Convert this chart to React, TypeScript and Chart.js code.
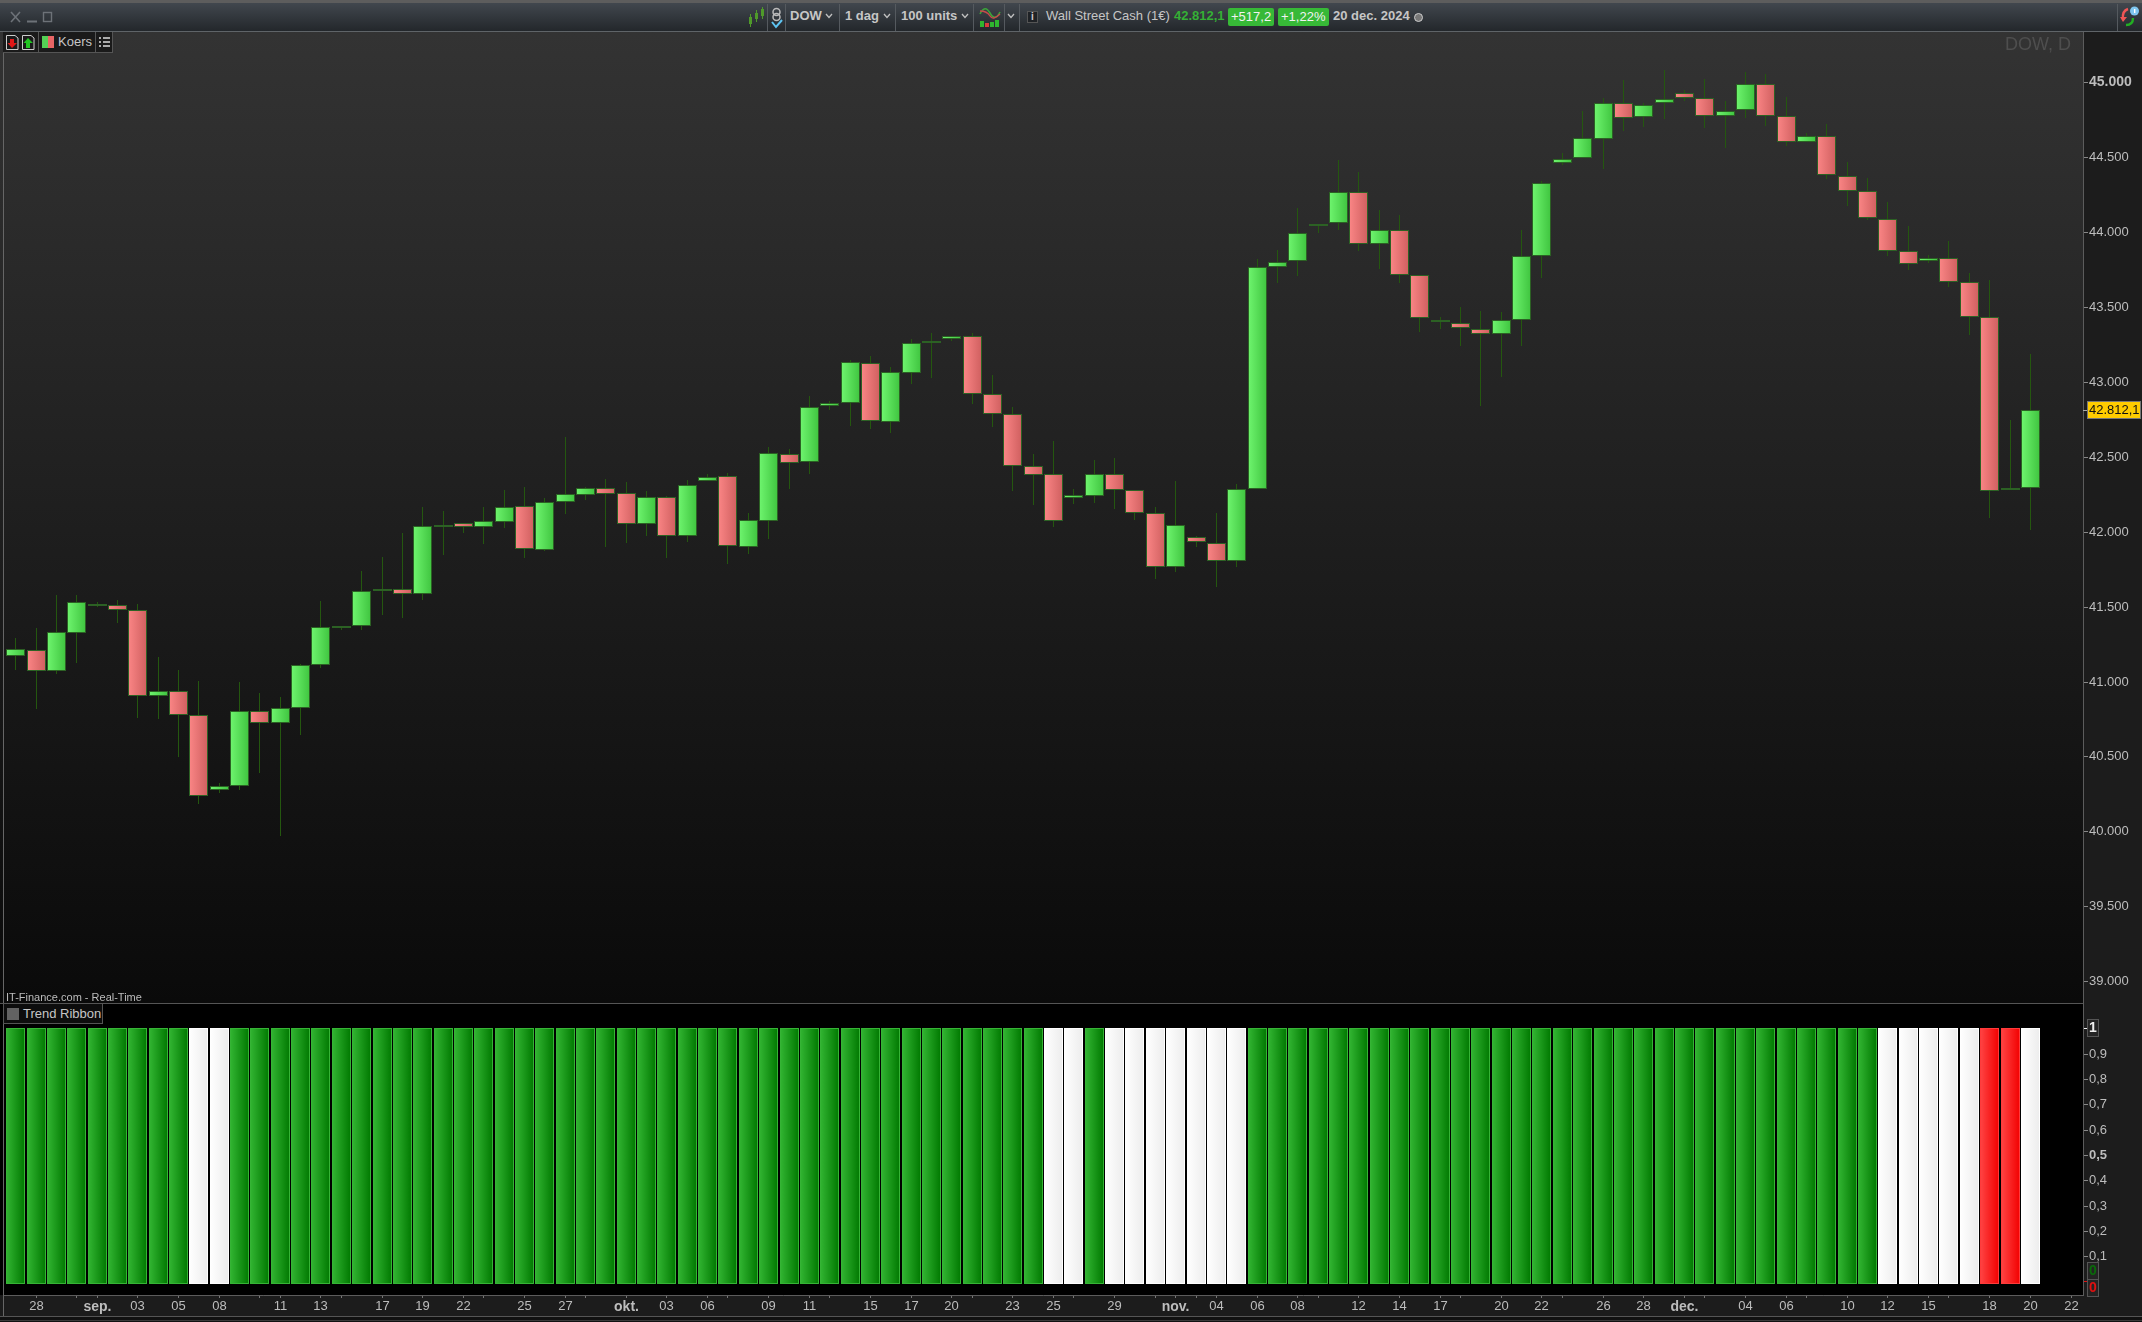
import React, { useEffect, useRef } from "react";
import { Chart, registerables } from "chart.js";

Chart.register(...registerables);

const FONT = "'Liberation Sans', Arial, sans-serif";
Chart.defaults.font.family = FONT;

// ---- price data ----
const opens = [41168,41212,41067,41321,41505,41508,41475,40901,40938,40774,40273,40304,40805,40720,40825,41108,41355,41372,41606,41615,41586,42033,42056,42033,42067,42169,41880,42196,42247,42289,42256,42053,42229,41973,42340,42369,41900,42073,42521,42467,42841,42861,43124,42734,43061,43257,43284,43304,42917,42783,42436,42383,42227,42240,42383,42280,42127,41766,41962,41927,41806,42283,43765,43805,44038,44058,44265,43918,44012,43711,43402,43395,43355,43317,43415,43843,44459,44492,44619,44864,44766,44860,44931,44897,44773,44813,44991,44773,44599,44644,44377,44272,44090,43871,43805,43829,43664,43435,42276,42289];
const highs = [41290,41354,41577,41577,41530,41544,41517,41165,41076,41003,40322,40994,40921,40894,41117,41537,41372,41735,41829,41989,42165,42138,42056,42165,42278,42298,42225,42634,42296,42352,42329,42269,42236,42345,42385,42392,42125,42565,42550,42906,42872,43146,43173,43102,43286,43326,43304,43326,43044,42830,42516,42605,42283,42478,42490,42280,42162,42338,41971,42122,42318,43820,43880,44163,44056,44480,44400,44145,44112,43711,43433,43500,43473,43464,44012,44339,44526,44808,44893,45015,44860,45082,44949,45022,44875,45069,45055,44902,44659,44719,44468,44359,44198,44038,43847,43938,43727,43680,42745,43186];
const lows = [41079,40818,41050,41125,41499,41392,40758,40752,40498,40184,40258,40278,40391,39971,40643,41092,41344,41346,41446,41426,41544,41846,41993,41920,42027,41826,41873,42120,42212,41898,41927,41973,41826,41933,42340,41786,41853,41951,42285,42387,42812,42705,42685,42661,42988,43028,43275,42855,42701,42272,42180,42033,42187,42194,42154,42078,41686,41733,41900,41633,41766,42283,43662,43707,43996,44014,43874,43756,43662,43335,43355,43242,42841,43035,43242,43696,44448,44492,44423,44677,44704,44755,44877,44697,44564,44764,44710,44575,44599,44354,44176,44081,43842,43749,43796,43635,43315,42093,42276,42013];
const closes = [41219,41067,41328,41528,41512,41475,40901,40938,40774,40238,40304,40805,40720,40825,41108,41366,41372,41606,41613,41586,42036,42038,42033,42069,42162,41882,42196,42249,42289,42254,42053,42229,41973,42309,42367,41907,42076,42523,42461,42830,42861,43130,42737,43064,43257,43268,43304,42917,42783,42436,42381,42073,42243,42383,42280,42127,41766,42042,41929,41806,42283,43765,43803,43992,44056,44265,43918,44012,43711,43424,43406,43357,43317,43415,43843,44325,44490,44626,44864,44759,44851,44891,44893,44773,44811,44991,44773,44599,44644,44379,44272,44092,43871,43785,43829,43664,43431,42269,42282,42812.1];

// 1 = green, 0 = white, -1 = red
const ribbonStates = [1,1,1,1,1,1,1,1,1,0,0,1,1,1,1,1,1,1,1,1,1,1,1,1,1,1,1,1,1,1,1,1,1,1,1,1,1,1,1,1,1,1,1,1,1,1,1,1,1,1,1,0,0,1,0,0,0,0,0,0,0,1,1,1,1,1,1,1,1,1,1,1,1,1,1,1,1,1,1,1,1,1,1,1,1,1,1,1,1,1,1,1,0,0,0,0,0,-1,-1,0];
const ribbonValues = [1,1,1,1,1,1,1,1,1,1,1,1,1,1,1,1,1,1,1,1,1,1,1,1,1,1,1,1,1,1,1,1,1,1,1,1,1,1,1,1,1,1,1,1,1,1,1,1,1,1,1,1,1,1,1,1,1,1,1,1,1,1,1,1,1,1,1,1,1,1,1,1,1,1,1,1,1,1,1,1,1,1,1,1,1,1,1,1,1,1,1,1,1,1,1,1,1,1,1,1];

// ---- axis ticks ----
const xTickIndex = [1,3,4,6,8,10,12,13,15,16,18,20,22,23,25,27,28,30,32,34,35,37,39,40,42,44,46,47,49,51,52,54,56,57,58,59,61,63,64,66,68,70,71,73,75,76,78,80,82,83,85,87,88,90,92,94,95,97,99,101];
const xTickText = ["28","","sep.","03","05","08","","11","13","","17","19","22","","25","27","","okt.","03","06","","09","11","","15","17","20","","23","25","","29","","nov.","","04","06","08","","12","14","17","","20","22","","26","28","dec.","","04","06","","10","12","15","","18","20","22"];
const priceTicks = [39000,39500,40000,40500,41000,41500,42000,42500,43000,43500,44000,44500,45000];
const ribbonTicks = [0,0.1,0.2,0.3,0.4,0.5,0.6,0.7,0.8,0.9,1];

const LEFT = 3, AXIS_X = 2083, PANE_TOP = 32, PANE_SPLIT = 1003, BAND_TOP = 1295, BAND_BOTTOM = 1316;
const X_MIN = -0.6241, X_MAX = 101.5872;

const snapX = (axis: any) => {
  if (axis.__snap) return;
  axis.__snap = true;
  const f = axis.getPixelForValue.bind(axis);
  axis.getPixelForValue = (v: number, i?: number) => Math.floor(f(v, i)) + 0.5;
};
const snapY = (axis: any) => {
  if (axis.__snap) return;
  axis.__snap = true;
  const f = axis.getPixelForValue.bind(axis);
  axis.getPixelForValue = (v: number, i?: number) => Math.round(f(v, i));
};
const noPad = (axis: any) => {
  axis.paddingTop = 0;
  axis.paddingBottom = 0;
  axis.paddingLeft = 0;
  axis.paddingRight = 0;
};

const hGrad = (c: any, left: string, right: string) => {
  const chart = c.chart;
  if (c.dataIndex === undefined || !chart.scales.x) return left;
  const x = chart.scales.x.getPixelForValue(c.dataIndex);
  if (!Number.isFinite(x)) return left;
  const g = chart.ctx.createLinearGradient(x - 9.5, 0, x + 9.5, 0);
  g.addColorStop(0, left);
  g.addColorStop(1, right);
  return g;
};

const priceFmt = (v: number) => `${Math.floor(v / 1000)}.${String(v % 1000).padStart(3, "0")}`;

const priceTag = {
  id: "priceTag",
  afterDraw(chart: any) {
    const { ctx, scales } = chart;
    const last = closes[closes.length - 1];
    const y = scales.y.getPixelForValue(last);
    ctx.save();
    ctx.strokeStyle = "#aaa";
    ctx.beginPath();
    ctx.moveTo(AXIS_X, y + 0.5);
    ctx.lineTo(AXIS_X + 5, y + 0.5);
    ctx.stroke();
    ctx.fillStyle = "#ffcc00";
    ctx.fillRect(AXIS_X + 5, y - 8, 52, 16);
    ctx.strokeStyle = "#777";
    ctx.strokeRect(AXIS_X + 4.5, y - 8.5, 53, 17);
    ctx.fillStyle = "#111";
    ctx.font = `13px ${FONT}`;
    ctx.textAlign = "left";
    ctx.textBaseline = "middle";
    ctx.fillText("42.812,1", AXIS_X + 6, y + 0.5);
    ctx.restore();
  },
};

const ribbonTags = {
  id: "ribbonTags",
  afterDraw(chart: any) {
    const { ctx, scales } = chart;
    const box = (cy: number, text: string, color: string) => {
      ctx.fillStyle = "#242424";
      ctx.fillRect(AXIS_X + 4, cy - 8, 11, 16);
      ctx.strokeStyle = "#555";
      ctx.strokeRect(AXIS_X + 4.5, cy - 8.5, 11, 17);
      ctx.fillStyle = color;
      ctx.font = `bold 14px ${FONT}`;
      ctx.textAlign = "center";
      ctx.textBaseline = "middle";
      ctx.fillText(text, AXIS_X + 10, cy + 0.5);
    };
    ctx.save();
    box(scales.y.getPixelForValue(1), "1", "#eee");
    box(scales.y.getPixelForValue(0) - 10, "0", "#0a6a0a");
    box(scales.y.getPixelForValue(0) + 7, "0", "#e01010");
    ctx.restore();
  },
};

function MainChart() {
  const ref = useRef<HTMLCanvasElement>(null);
  useEffect(() => {
    const ids = opens.map((_, i) => i);
    const chart = new Chart(ref.current!, {
      type: "bar",
      data: {
        datasets: [
          {
            label: "wick",
            data: ids.map((i) => ({ x: i, y: [lows[i], highs[i]] })),
            backgroundColor: "#24570f",
            barThickness: 1,
            grouped: false,
            order: 2,
            inflateAmount: 0,
          },
          {
            label: "Koers",
            data: ids.map((i) => ({ x: i, y: [opens[i], closes[i]] })),
            barThickness: 19,
            grouped: false,
            order: 1,
            inflateAmount: 0,
            minBarLength: 2,
            borderWidth: 1,
            borderSkipped: false,
            borderColor: "#2c6124",
            backgroundColor: (c: any) => {
              const i = c.dataIndex;
              return closes[i] >= opens[i]
                ? hGrad(c, "#6ff56f", "#3fc43f")
                : hGrad(c, "#fb8686", "#cf5f5f");
            },
          },
        ] as any,
      },
      options: {
        responsive: false,
        animation: false,
        devicePixelRatio: 1,
        layout: { padding: { left: LEFT, right: 0, top: 0, bottom: 0 } },
        plugins: { legend: { display: false }, tooltip: { enabled: false } },
        scales: {
          x: {
            type: "linear",
            min: X_MIN,
            max: X_MAX,
            offset: false,
            display: false,
            afterDataLimits: snapX,
            afterBuildTicks: (a: any) => {
              a.ticks = [];
            },
          },
          y: {
            type: "linear",
            position: "right",
            min: 38853.8,
            max: 45335.8,
            afterDataLimits: snapY,
            afterBuildTicks: (a: any) => {
              a.ticks = priceTicks.map((value) => ({ value }));
            },
            afterFit: (a: any) => {
              a.width = 59;
              noPad(a);
            },
            border: { color: "#5c5c5c", width: 1 },
            grid: { drawOnChartArea: false, drawTicks: true, tickLength: 5, tickColor: "#888" },
            ticks: {
              padding: 1,
              autoSkip: false,
              color: "#bdbdbd",
              font: (c: any) =>
                c.tick && c.tick.value === 45000 ? { size: 14, weight: "bold" } : { size: 13 },
              callback: (v: any) => priceFmt(v),
            },
          },
        },
      } as any,
      plugins: [priceTag],
    });
    return () => chart.destroy();
  }, []);
  return (
    <canvas
      ref={ref}
      width={2142}
      height={PANE_SPLIT - PANE_TOP}
      style={{ position: "absolute", left: 0, top: PANE_TOP, display: "block" }}
    />
  );
}

function RibbonChart() {
  const ref = useRef<HTMLCanvasElement>(null);
  useEffect(() => {
    const chart = new Chart(ref.current!, {
      type: "bar",
      data: {
        datasets: [
          {
            label: "Trend Ribbon",
            data: ribbonValues.map((v, i) => ({ x: i, y: v })),
            base: -0.008,
            barThickness: 19,
            inflateAmount: 0,
            borderWidth: 1,
            borderSkipped: false,
            borderColor: (c: any) => {
              const s = ribbonStates[c.dataIndex];
              return s === 1 ? "#36b436" : s === 0 ? "#ffffff" : "#ff3b3b";
            },
            backgroundColor: (c: any) => {
              const s = ribbonStates[c.dataIndex];
              if (s === 1) return hGrad(c, "#33b633", "#007800");
              if (s === 0) return hGrad(c, "#ffffff", "#ececec");
              return hGrad(c, "#ff4545", "#f20000");
            },
          },
        ] as any,
      },
      options: {
        responsive: false,
        animation: false,
        devicePixelRatio: 1,
        layout: { padding: { left: LEFT, right: 0, top: 0, bottom: 0 } },
        plugins: { legend: { display: false }, tooltip: { enabled: false } },
        scales: {
          x: {
            type: "linear",
            min: X_MIN,
            max: X_MAX,
            offset: false,
            afterDataLimits: snapX,
            afterBuildTicks: (a: any) => {
              a.ticks = xTickIndex.map((value) => ({ value }));
            },
            afterFit: (a: any) => {
              a.height = BAND_BOTTOM - BAND_TOP;
              noPad(a);
            },
            border: { color: "#5c5c5c", width: 1 },
            grid: { offset: false, drawOnChartArea: false, drawTicks: true, tickLength: 3, tickColor: "#777" },
            ticks: {
              padding: 1,
              autoSkip: false,
              maxRotation: 0,
              minRotation: 0,
              color: "#bdbdbd",
              font: (c: any) => {
                const t = xTickText[c.index];
                return t && t.endsWith(".") ? { size: 14, weight: "bold" } : { size: 13 };
              },
              callback: (_v: any, i: number) => xTickText[i],
            },
          },
          y: {
            type: "linear",
            position: "right",
            min: -0.05336,
            max: 1.10079,
            afterDataLimits: snapY,
            afterBuildTicks: (a: any) => {
              a.ticks = ribbonTicks.map((value) => ({ value }));
            },
            afterFit: (a: any) => {
              a.width = 59;
              noPad(a);
            },
            border: { color: "#5c5c5c", width: 1 },
            grid: {
              drawOnChartArea: false,
              drawTicks: true,
              tickLength: 5,
              tickColor: (c: any) =>
                c.tick && c.tick.value === 1 ? "#eee" : c.tick && c.tick.value === 0 ? "#e01010" : "#888",
            },
            ticks: {
              padding: 1,
              autoSkip: false,
              color: "#bdbdbd",
              font: (c: any) =>
                c.tick && c.tick.value === 0.5 ? { size: 13, weight: "bold" } : { size: 13 },
              callback: (v: any) =>
                v === 0 || v === 1 ? "" : String(v).replace(".", ","),
            },
          },
        },
      } as any,
      plugins: [ribbonTags],
    });
    return () => chart.destroy();
  }, []);
  return (
    <canvas
      ref={ref}
      width={2142}
      height={BAND_BOTTOM - PANE_SPLIT}
      style={{ position: "absolute", left: 0, top: PANE_SPLIT, display: "block" }}
    />
  );
}

const abs = (left: number, top: number, width: number, height: number, extra: any = {}) => ({
  position: "absolute" as const,
  left,
  top,
  width,
  height,
  ...extra,
});

function Txt({ x, cy, color = "#c6c6c6", bold = false, size = 13, children }: any) {
  return (
    <div
      style={{
        position: "absolute",
        left: x,
        top: cy - 10,
        height: 20,
        lineHeight: "20px",
        fontFamily: FONT,
        fontSize: size,
        fontWeight: bold ? 700 : 400,
        color,
        whiteSpace: "nowrap",
      }}
    >
      {children}
    </div>
  );
}

const Chevron = ({ x }: { x: number }) => (
  <svg style={abs(x, 13, 8, 6)} viewBox="0 0 8 6">
    <path d="M1 1 L4 4.5 L7 1" fill="none" stroke="#c0c0c0" strokeWidth="1.3" />
  </svg>
);

const Sep = ({ x }: { x: number }) => <div style={abs(x, 4, 1, 27, { background: "#555a5f" })} />;

function Toolbar() {
  return (
    <>
      <div style={abs(0, 0, 2142, 3, { background: "#5d5d5d" })} />
      <div style={abs(0, 3, 2142, 28, { background: "linear-gradient(#41474e,#23272b)" })} />
      <div style={abs(0, 31, 2142, 1, { background: "#5f6468" })} />
      <svg style={abs(9, 10, 46, 14)} viewBox="0 0 46 14">
        <path d="M2 2 L11 12 M11 2 L2 12" stroke="#6d7278" strokeWidth="1.6" />
        <path d="M18 11.5 H28" stroke="#6d7278" strokeWidth="2" />
        <rect x="34.5" y="2.5" width="8" height="9" fill="none" stroke="#6d7278" strokeWidth="1.4" />
      </svg>
      <svg style={abs(748, 6, 18, 22)} viewBox="0 0 18 22">
        <rect x="1" y="11" width="3" height="7" fill="#4f9a2a" />
        <rect x="7" y="7" width="3" height="6" fill="#4f9a2a" />
        <rect x="13" y="3" width="3" height="7" fill="#4f9a2a" />
        <path d="M2.5 8 V21 M8.5 4 V16 M14.5 1 V13" stroke="#4f9a2a" />
      </svg>
      <svg style={abs(769, 6, 15, 23)} viewBox="0 0 15 23">
        <circle cx="7.5" cy="6" r="3.5" fill="none" stroke="#bbb" strokeWidth="1.5" />
        <circle cx="7.5" cy="11" r="3.5" fill="none" stroke="#bbb" strokeWidth="1.5" />
        <path d="M3 16 L7 21 L13 14" fill="none" stroke="#5ec4f2" strokeWidth="2" />
      </svg>
      <Sep x={767} />
      <Sep x={785} />
      <Txt x={790} cy={16} bold>DOW</Txt>
      <Chevron x={825} />
      <Sep x={839} />
      <Txt x={845} cy={16} bold>1 dag</Txt>
      <Chevron x={883} />
      <Sep x={895} />
      <Txt x={901} cy={16} bold>100 units</Txt>
      <Chevron x={961} />
      <Sep x={973} />
      <svg style={abs(979, 7, 22, 21)} viewBox="0 0 22 21">
        <path d="M1 7 Q6 -3 11 6 T21 5" fill="none" stroke="#3aa53a" strokeWidth="1.6" />
        <path d="M1 4 Q8 4 11 9 T21 7" fill="none" stroke="#c94a4a" strokeWidth="1.4" />
        <rect x="1" y="14" width="4" height="6" fill="#2fb52f" />
        <rect x="6" y="16" width="4" height="4" fill="#d93b3b" />
        <rect x="11" y="15" width="4" height="5" fill="#2fb52f" />
        <rect x="16" y="13" width="4" height="7" fill="#2fb52f" />
      </svg>
      <Sep x={1004} />
      <Chevron x={1007} />
      <Sep x={1019} />
      <div
        style={abs(1027, 11, 11, 12, {
          background: "#1f2226",
          border: "1px solid #555",
          boxSizing: "border-box",
          color: "#ccc",
          fontFamily: FONT,
          fontSize: 10,
          fontWeight: 700,
          lineHeight: "10px",
          textAlign: "center",
        })}
      >
        i
      </div>
      <Txt x={1046} cy={16}>Wall Street Cash (1€)</Txt>
      <Txt x={1174} cy={16} bold color="#35b035">42.812,1</Txt>
      <div style={abs(1228, 8, 46, 18, { background: "#37b937", borderRadius: 2 })} />
      <Txt x={1231} cy={17} color="#f2f2f2">+517,2</Txt>
      <div style={abs(1278, 8, 51, 18, { background: "#37b937", borderRadius: 2 })} />
      <Txt x={1281} cy={17} color="#f2f2f2">+1,22%</Txt>
      <Txt x={1333} cy={16} bold>20 dec. 2024</Txt>
      <div style={abs(1414, 13, 9, 9, { background: "#777", border: "1px solid #ccc", borderRadius: "50%", boxSizing: "border-box" })} />
      <Sep x={2117} />
      <svg style={abs(2120, 6, 20, 21)} viewBox="0 0 20 21">
        <path d="M8 3 Q2 5 3 13" fill="none" stroke="#f05555" strokeWidth="2.4" />
        <path d="M0 11 L7 11 L3 16 Z" fill="#f05555" />
        <path d="M13 12 Q13 19 6 19" fill="none" stroke="#22b022" strokeWidth="2.4" />
        <circle cx="14.5" cy="5" r="4.5" fill="#7fc6f0" />
        <rect x="14" y="3" width="1.4" height="4" fill="#fff" />
      </svg>
    </>
  );
}

function Legends() {
  return (
    <>
      <div style={abs(3, 32, 110, 21, { background: "#1a1a1a", borderRight: "1px solid #555", borderBottom: "1px solid #555", boxSizing: "border-box" })} />
      <svg style={abs(5, 34, 32, 17)} viewBox="0 0 32 17">
        <path d="M1.5 1.5 H10 L13 4 V15.5 H1.5 Z" fill="none" stroke="#ccc" />
        <path d="M5 5 H9 V9 H12 L7 14 L2.5 9 H5 Z" fill="#e01818" />
        <path d="M17.5 1.5 H26 L29 4 V15.5 H17.5 Z" fill="none" stroke="#ccc" />
        <path d="M23 4 L28 9 H25 V14 H21 V9 H18.5 Z" fill="#22c422" />
      </svg>
      <div style={abs(38, 32, 1, 20, { background: "#555" })} />
      <div style={abs(42, 36, 6, 12, { background: "#55d055" })} />
      <div style={abs(48, 36, 6, 12, { background: "#e86565" })} />
      <Txt x={58} cy={42}>Koers</Txt>
      <div style={abs(95, 32, 1, 20, { background: "#555" })} />
      <svg style={abs(99, 36, 11, 12)} viewBox="0 0 11 12">
        <path d="M0 2 H2 M4 2 H11 M0 6 H2 M4 6 H11 M0 10 H2 M4 10 H11" stroke="#ddd" strokeWidth="1.4" />
      </svg>
      <Txt x={2005} cy={44} size={18} color="#4e4e4e">DOW, D</Txt>
      <Txt x={6} cy={997} size={11} color="#bcbcbc">IT-Finance.com - Real-Time</Txt>
      <div style={abs(3, 1003, 100, 21, { background: "#0d0d0d", border: "1px solid #555", boxSizing: "border-box" })} />
      <div style={abs(7, 1008, 12, 12, { background: "#626262" })} />
      <Txt x={23} cy={1014}>Trend Ribbon</Txt>
    </>
  );
}

export default function App() {
  return (
    <div style={{ position: "absolute", left: 0, top: 0, width: 2142, height: 1322, overflow: "hidden", background: "#111" }}>
      <div style={abs(0, PANE_TOP, AXIS_X, PANE_SPLIT - PANE_TOP, { background: "linear-gradient(#333333,#0a0a0a)" })} />
      <div style={abs(AXIS_X, PANE_TOP, 59, BAND_BOTTOM - PANE_TOP, { background: "#1c1c1c" })} />
      <div style={abs(0, PANE_SPLIT, AXIS_X, BAND_TOP - PANE_SPLIT, { background: "#000" })} />
      <div style={abs(0, BAND_TOP, AXIS_X, BAND_BOTTOM - BAND_TOP, { background: "#1c1c1c" })} />
      <MainChart />
      <RibbonChart />
      <div style={abs(0, PANE_SPLIT, AXIS_X, 1, { background: "#555" })} />
      <div style={abs(3, PANE_TOP, 1, BAND_BOTTOM - PANE_TOP, { background: "#666" })} />
      <div style={abs(0, BAND_BOTTOM, 2142, 1, { background: "#555" })} />
      <div style={abs(0, 1320, 2142, 1, { background: "#3a3a3a" })} />
      <Toolbar />
      <Legends />
    </div>
  );
}
